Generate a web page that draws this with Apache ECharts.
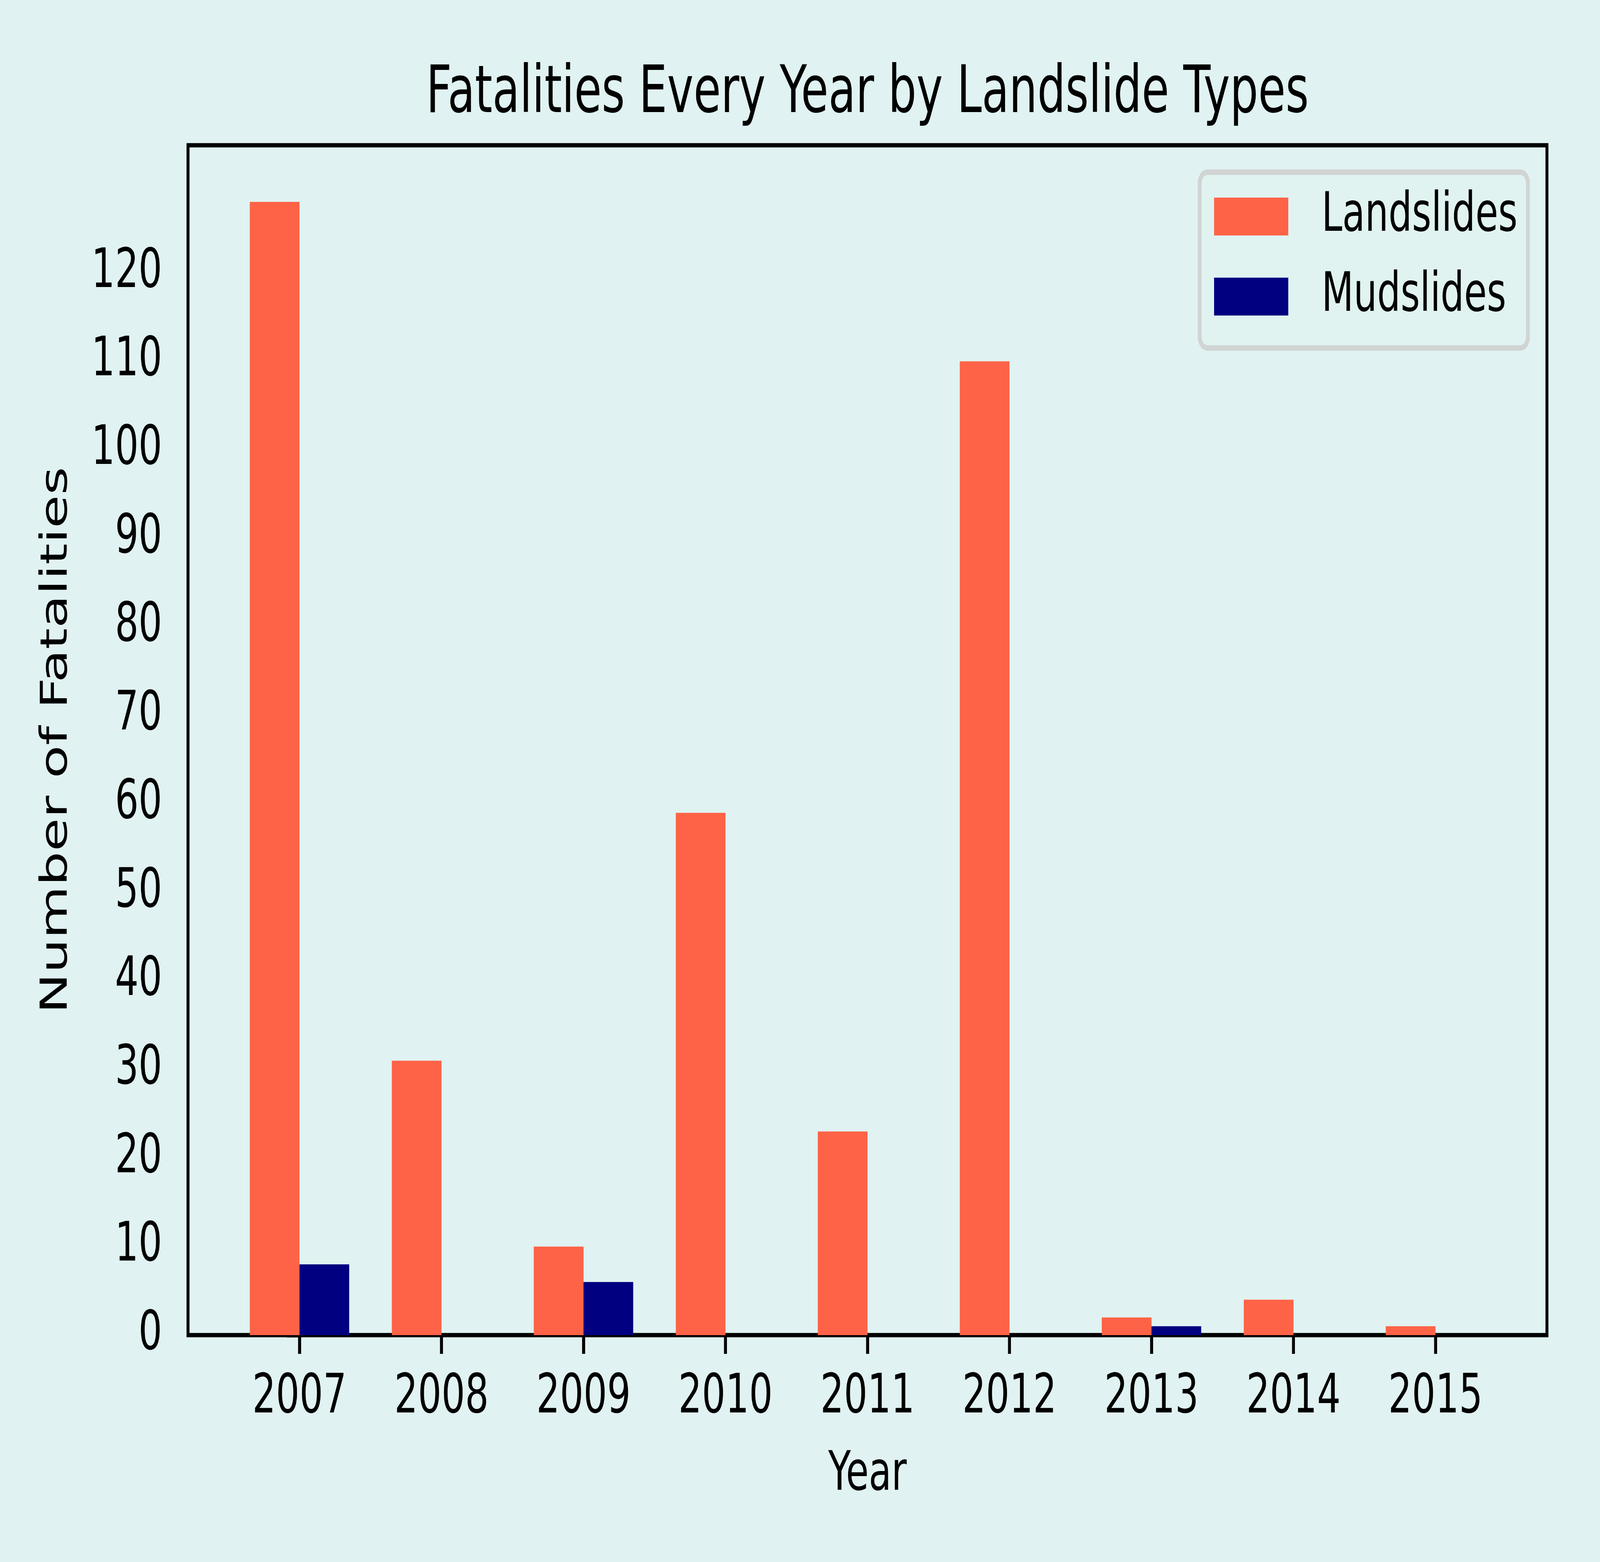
<!DOCTYPE html>
<html>
<head>
<meta charset="utf-8">
<script src="https://cdn.jsdelivr.net/npm/echarts@6/dist/echarts.min.js"></script>
<style>
  html, body { margin: 0; padding: 0; background: #e0f2f1; overflow: hidden; }
  #main { width: 6000px; height: 4000px; transform-origin: 0 0; }
</style>
</head>
<body>
<div id="main"></div>
<script>
// data
var years = ['2007', '2008', '2009', '2010', '2011', '2012', '2013', '2014', '2015'];
var landslides = [128, 31, 10, 59, 23, 110, 2, 4, 1];
var mudslides = [8, 0, 6, 0, 0, 0, 1, 0, 0];
var yTicks = [0, 10, 20, 30, 40, 50, 60, 70, 80, 90, 100, 110, 120];

var FONT = 'DejaVu Sans';
var tickIdx = years.map(function (y, i) { return i; });

// the chart is laid out for 6000x4000; fit it into whatever window we get
var box = document.getElementById('main');
box.style.transform = 'scale(' + (window.innerWidth / 6000) + ',' + (window.innerHeight / 4000) + ')';

var myChart = echarts.init(box, null, { renderer: 'canvas', width: 6000, height: 4000 });

const option = {
  backgroundColor: '#e0f2f1',
  animation: false,
  title: {
    text: 'Fatalities Every Year by Landslide Types',
    left: 3253,
    top: 160,
    textAlign: 'center',
    padding: 0,
    textStyle: { fontFamily: FONT, fontSize: 167, fontWeight: 'normal', color: '#000', lineHeight: 167 }
  },
  legend: {
    orient: 'vertical',
    left: 4499,
    top: 441,
    padding: [44, 39, 62, 54],
    itemGap: 66,
    itemWidth: 278,
    itemHeight: 97,
    icon: 'rect',
    backgroundColor: 'rgba(224,242,241,0.8)',
    borderColor: 'rgba(204,204,204,0.8)',
    borderWidth: 14,
    borderRadius: 28,
    textStyle: {
      fontFamily: FONT, fontSize: 139, color: '#000', lineHeight: 139,
      padding: [0, 0, 0, 120]
    },
    data: ['Landslides', 'Mudslides']
  },
  grid: {
    left: 705,
    top: 372,
    width: 5096,
    height: 3047,
    show: true,
    borderColor: '#000',
    borderWidth: 11,
    backgroundColor: 'transparent'
  },
  xAxis: {
    type: 'value',
    min: -0.785,
    max: 8.785,
    name: 'Year',
    nameLocation: 'middle',
    nameGap: 290,
    nameTextStyle: { fontFamily: FONT, fontSize: 139, color: '#000', lineHeight: 139 },
    axisLine: { show: false },
    splitLine: { show: false },
    axisTick: {
      show: true, length: 48, customValues: tickIdx,
      lineStyle: { color: '#000', width: 11 }
    },
    axisLabel: {
      customValues: tickIdx,
      margin: 92,
      fontFamily: FONT, fontSize: 139, color: '#000', lineHeight: 139,
      formatter: function (v) { return years[Math.round(v)]; }
    }
  },
  yAxis: {
    type: 'value',
    min: 0,
    max: 134.4,
    name: 'Number of Fatalities',
    nameLocation: 'middle',
    nameGap: 422,
    nameTextStyle: { fontFamily: FONT, fontSize: 139, color: '#000', lineHeight: 139 },
    axisLine: { show: false },
    splitLine: { show: false },
    axisTick: {
      show: true, length: 48, customValues: yTicks,
      lineStyle: { color: '#000', width: 11 }
    },
    axisLabel: {
      customValues: yTicks,
      margin: 97,
      fontFamily: FONT, fontSize: 139, color: '#000', lineHeight: 139
    }
  },
  series: [
    {
      name: 'Landslides',
      type: 'bar',
      barWidth: 186.4,
      barGap: '0%',
      itemStyle: { color: '#ff6347' },
      data: landslides.map(function (v, i) { return [i, v]; })
    },
    {
      name: 'Mudslides',
      type: 'bar',
      barWidth: 186.4,
      barGap: '0%',
      itemStyle: { color: '#000080' },
      data: mudslides.map(function (v, i) { return [i, v]; })
    }
  ]
};
myChart.setOption(option);
</script>
</body>
</html>
